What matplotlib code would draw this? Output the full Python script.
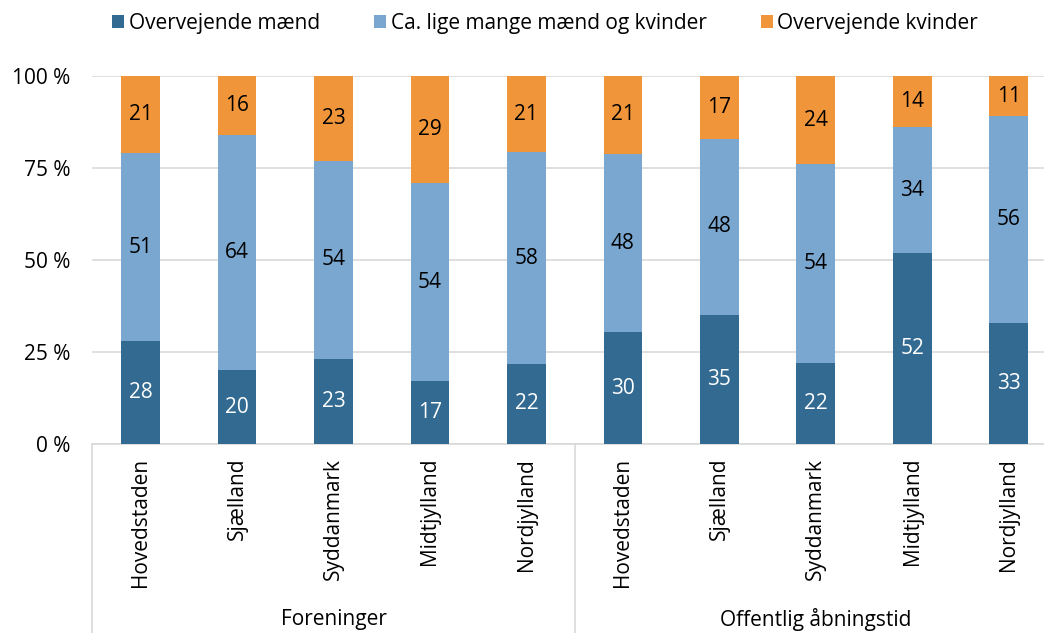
import numpy as np
import matplotlib.pyplot as plt

# Data
regioner = ['Hovedstaden', 'Sjælland', 'Syddanmark', 'Midtjylland', 'Nordjylland']
grupper = ['Foreninger', 'Offentlig åbningstid']
serier = ['Overvejende mænd', 'Ca. lige mange mænd og kvinder', 'Overvejende kvinder']

maend = [28, 20, 23, 17, 22, 30, 35, 22, 52, 33]
lige = [51, 64, 54, 54, 58, 48, 48, 54, 34, 56]
kvinder = [21, 16, 23, 29, 21, 21, 17, 24, 14, 11]

farver = ['#336a92', '#7aa7d0', '#f0953a']
tekstfarver = ['white', 'black', 'black']

plt.rcParams['font.family'] = ['Open Sans', 'DejaVu Sans']
fs = 15

fig = plt.figure(figsize=(10.44, 6.33), dpi=100)
ax = fig.add_axes([0.0884, 0.2986, 0.924, 0.5814])

data = np.array([maend, lige, kvinder], dtype=float)
andel = data / data.sum(axis=0) * 100  # 100 % stablet som i Excel
x = np.arange(len(maend))

bund = np.zeros(len(maend))
for i in range(3):
    ax.bar(x, andel[i], bottom=bund, width=0.4, color=farver[i], label=serier[i], zorder=3)
    for j in range(len(x)):
        ax.text(x[j], bund[j] + andel[i][j] / 2, str(int(data[i][j])), ha='center', va='center',
                color=tekstfarver[i], fontsize=fs, zorder=4)
    bund += andel[i]

ax.set_xlim(-0.5, len(x) - 0.5)
ax.set_ylim(0, 100)
ax.set_yticks([0, 25, 50, 75, 100])
ax.set_yticklabels(['0 %', '25 %', '50 %', '75 %', '100 %'], fontsize=fs)
ax.yaxis.grid(True, color='#d9d9d9', linewidth=1.2, zorder=0)
ax.set_axisbelow(True)
for s in ['left', 'right', 'top']:
    ax.spines[s].set_visible(False)
ax.spines['bottom'].set_color('#d9d9d9')
ax.spines['bottom'].set_linewidth(1.2)

ax.set_xticks(x)
ax.set_xticklabels(regioner * 2, rotation=90, fontsize=fs, va='top')
ax.tick_params(axis='both', length=0)
ax.tick_params(axis='x', pad=10)
ax.tick_params(axis='y', pad=16)

# gruppelinjer og grupper under akserne
trans = ax.get_xaxis_transform()
for xv in [-0.5, 4.5, 9.5]:
    ax.plot([xv, xv], [0, -0.52], color='#d9d9d9', linewidth=1.2, transform=trans, clip_on=False)
for k, g in enumerate(grupper):
    ax.text(2 + 5 * k, -0.478, g, ha='center', va='center', fontsize=fs, transform=trans)

fig.legend(loc='center', bbox_to_anchor=(0.522, 0.963), ncol=3, frameon=False, fontsize=fs,
           handlelength=0.6, handleheight=0.6, handletextpad=0.2, columnspacing=2.6)

fig.savefig('out.png', dpi=100)
